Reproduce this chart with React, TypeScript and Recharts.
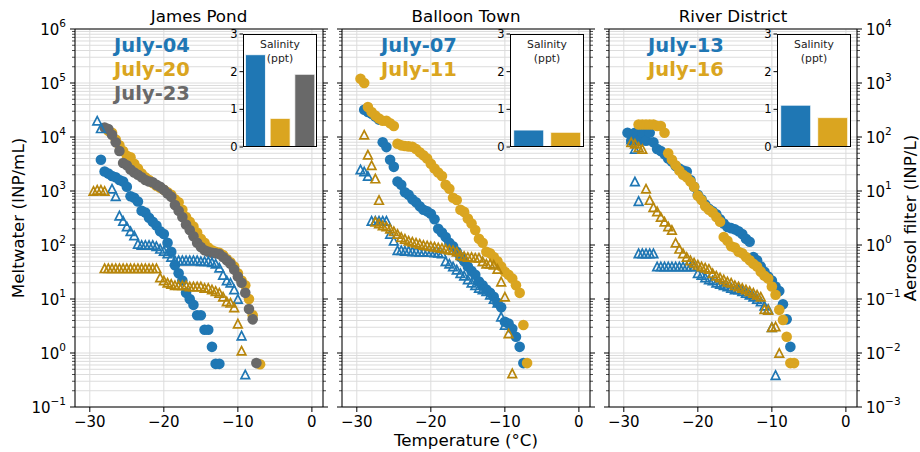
import { ScatterChart, Scatter, XAxis, YAxis, CartesianGrid, ReferenceLine, BarChart, Bar, Cell } from 'recharts'

type Pair = [number, number]

// ---- James Pond ----
const jpMelt0704: Pair[] = [[-28.5, 3800], [-28, 2300], [-27.5, 2100], [-27, 1900], [-26.5, 1800], [-26, 1600], [-25.5, 1500], [-25, 1200], [-24.5, 800], [-24, 750], [-23.5, 640], [-23, 430], [-22.5, 400], [-22, 320], [-21.5, 270], [-21, 230], [-20.5, 180], [-20, 160], [-19.5, 110], [-19, 75], [-18.5, 42], [-18, 30], [-17.5, 22], [-17, 13], [-16.5, 10], [-16, 7.8], [-15.5, 5], [-15, 5], [-14.5, 2.7], [-14, 2.7], [-13.5, 1.3], [-13, 0.63], [-12.5, 0.63]]
const jpMelt0720: Pair[] = [[-27.5, 13000], [-27, 12000], [-26.5, 9000], [-26, 7000], [-25.5, 5500], [-25, 4500], [-24.5, 4200], [-24, 3200], [-23.5, 2600], [-23, 2100], [-22.5, 1800], [-22, 1600], [-21.5, 1400], [-21, 1250], [-20.5, 1150], [-20, 1050], [-19.5, 950], [-19, 850], [-18.5, 700], [-18, 620], [-17.5, 450], [-17, 330], [-16.5, 270], [-16, 220], [-15.5, 170], [-15, 130], [-14.5, 110], [-14, 90], [-13.5, 80], [-13, 75], [-12.5, 72], [-12, 65], [-11.5, 55], [-11, 48], [-10.5, 40], [-10, 30], [-9.5, 22], [-9, 18], [-8.5, 10], [-8, 5], [-7, 0.62]]
const jpMelt0723: Pair[] = [[-28, 15000], [-27.5, 14000], [-27, 11000], [-26.5, 8000], [-26, 5500], [-25.5, 3300], [-25, 3000], [-24.5, 2500], [-24, 2200], [-23.5, 2000], [-23, 1800], [-22.5, 1600], [-22, 1500], [-21.5, 1450], [-21, 1300], [-20.5, 1200], [-20, 1050], [-19.5, 900], [-19, 780], [-18.5, 550], [-18, 430], [-17.5, 330], [-17, 240], [-16.5, 190], [-16, 145], [-15.5, 110], [-15, 92], [-14.5, 80], [-14, 75], [-13.5, 72], [-13, 70], [-12.5, 68], [-12, 60], [-11.5, 52], [-11, 45], [-10.5, 35], [-10, 26], [-9.5, 20], [-9, 13], [-8.5, 6.5], [-8, 4.2], [-7.5, 0.65]]
const jpAero0704: Pair[] = [[-29, 200], [-28.5, 145], [-27, 11], [-26.5, 8], [-26, 3.5], [-25.5, 2.8], [-25, 2.2], [-24.5, 1.8], [-24, 1.5], [-23.5, 1.05], [-23, 1], [-22.5, 1], [-22, 1], [-21.5, 1], [-21, 0.95], [-20.5, 0.85], [-20, 0.78], [-19.5, 0.7], [-19, 0.6], [-18.5, 0.52], [-18, 0.52], [-17.5, 0.52], [-17, 0.52], [-16.5, 0.52], [-16, 0.52], [-15.5, 0.52], [-15, 0.5], [-14.5, 0.5], [-14, 0.5], [-13.5, 0.48], [-13, 0.45], [-12.5, 0.38], [-12, 0.28], [-11.5, 0.22], [-11, 0.2], [-10.5, 0.15], [-10, 0.1], [-9.5, 0.021], [-9, 0.004]]
const jpAero0720: Pair[] = [[-29.5, 10], [-29, 10.5], [-28.5, 10.5], [-28, 10], [-28, 0.37], [-27.5, 0.37], [-27, 0.37], [-26.5, 0.37], [-26, 0.37], [-25.5, 0.37], [-25, 0.37], [-24.5, 0.37], [-24, 0.37], [-23.5, 0.37], [-23, 0.37], [-22.5, 0.37], [-22, 0.37], [-21.5, 0.37], [-21, 0.37], [-20.5, 0.25], [-20, 0.22], [-19.5, 0.2], [-19, 0.19], [-18.5, 0.18], [-18, 0.18], [-17.5, 0.18], [-17, 0.18], [-16.5, 0.17], [-16, 0.17], [-15.5, 0.17], [-15, 0.17], [-14.5, 0.16], [-14, 0.16], [-13.5, 0.15], [-13, 0.14], [-12.5, 0.13], [-12, 0.11], [-11.5, 0.09], [-11, 0.085], [-10.5, 0.07], [-10, 0.035], [-9.5, 0.011]]
const jpSalinity = [2.45, 0.76, 1.93]

// ---- Balloon Town ----
const btMelt0707: Pair[] = [[-29, 32000], [-28.5, 29000], [-28, 27000], [-27.5, 24000], [-27, 21000], [-26.5, 8000], [-26, 6500], [-25.5, 3800], [-25, 2800], [-24.5, 1500], [-24, 1300], [-23.5, 950], [-23, 850], [-22.5, 700], [-22, 620], [-21.5, 520], [-21, 450], [-20.5, 420], [-20, 380], [-19.5, 300], [-19, 200], [-18.5, 170], [-18, 140], [-17.5, 110], [-17, 95], [-16.5, 75], [-16, 60], [-15.5, 50], [-15, 40], [-14.5, 33], [-14, 28], [-13.5, 21], [-13, 18], [-12.5, 15], [-12, 13], [-11.5, 11], [-11, 8.5], [-10.5, 7], [-10, 3.8], [-9.5, 3.5], [-9, 2.8], [-8.5, 2], [-8, 1.3], [-7.5, 0.65]]
const btMelt0711: Pair[] = [[-29.5, 120000], [-29, 100000], [-28.5, 36000], [-28, 29000], [-27.5, 25000], [-27, 22000], [-26.5, 20000], [-26, 20000], [-25.5, 18000], [-25, 16000], [-24.5, 7500], [-24, 7000], [-23.5, 6800], [-23, 6700], [-22.5, 6600], [-22, 6000], [-21.5, 5200], [-21, 4600], [-20.5, 4000], [-20, 3200], [-19.5, 2600], [-19, 2200], [-18.5, 1900], [-18, 1300], [-17.5, 1100], [-17, 750], [-16.5, 680], [-16, 450], [-15.5, 410], [-15, 310], [-14.5, 250], [-14, 190], [-13.5, 130], [-13, 110], [-12.5, 75], [-12, 70], [-11.5, 60], [-11, 50], [-10.5, 40], [-10, 32], [-9.5, 28], [-9, 24], [-8.5, 18], [-8, 13], [-7.5, 3.3], [-7, 0.65]]
const btAero0707: Pair[] = [[-29.5, 25], [-29, 23], [-28.5, 19], [-28, 2.8], [-27.5, 2.8], [-27, 2.8], [-26.5, 2.8], [-26, 2.8], [-25.5, 1.6], [-25, 1.2], [-24.5, 0.8], [-24, 0.8], [-23.5, 0.78], [-23, 0.78], [-22.5, 0.76], [-22, 0.76], [-21.5, 0.75], [-21, 0.75], [-20.5, 0.74], [-20, 0.74], [-19.5, 0.73], [-19, 0.72], [-18.5, 0.7], [-18, 0.5], [-17.5, 0.45], [-17, 0.4], [-16.5, 0.35], [-16, 0.3], [-15.5, 0.27], [-15, 0.23], [-14.5, 0.2], [-14, 0.18], [-13.5, 0.16], [-13, 0.15], [-12.5, 0.14], [-12, 0.12], [-11.5, 0.1], [-11, 0.085], [-10.5, 0.047], [-10, 0.033]]
const btAero0711: Pair[] = [[-29, 110], [-28.5, 47], [-28, 30], [-27.5, 17], [-27, 6.8], [-27.5, 2.7], [-27, 2.5], [-26.5, 2.3], [-26, 2.2], [-25.5, 2], [-25, 1.8], [-24.5, 1.6], [-24, 1.4], [-23.5, 1.3], [-23, 1.2], [-22.5, 1.15], [-22, 1.1], [-21.5, 1.05], [-21, 1], [-20.5, 0.98], [-20, 0.95], [-19.5, 0.93], [-19, 0.9], [-18.5, 0.88], [-18, 0.85], [-17.5, 0.82], [-17, 0.8], [-16.5, 0.75], [-16, 0.65], [-15.5, 0.62], [-15, 0.6], [-14.5, 0.6], [-14, 0.58], [-13.5, 0.58], [-13, 0.5], [-12.5, 0.45], [-12, 0.45], [-11.5, 0.43], [-11, 0.36], [-10.5, 0.21], [-10, 0.11], [-9.5, 0.023], [-9, 0.0042]]
const btSalinity = [0.45, 0.39]

// ---- River District ----
const rdMelt0713: Pair[] = [[-29.5, 12000], [-29, 8500], [-28.5, 12000], [-28, 8500], [-27.5, 12000], [-27, 8500], [-26.5, 12000], [-26, 8000], [-25.5, 6000], [-25, 5500], [-24.5, 4800], [-24, 4000], [-23.5, 3500], [-23, 2900], [-22.5, 2600], [-22, 2400], [-21.5, 2300], [-21, 1600], [-20.5, 1200], [-20, 850], [-19.5, 700], [-19, 560], [-18.5, 470], [-18, 420], [-17.5, 370], [-17, 300], [-16.5, 250], [-16, 215], [-15.5, 205], [-15, 195], [-14.5, 180], [-14, 160], [-13.5, 130], [-13, 115], [-12.5, 60], [-12, 52], [-11.5, 40], [-11, 32], [-10.5, 26], [-10, 22], [-9.5, 17], [-9, 14], [-8.5, 8], [-8, 4.2], [-7.5, 1.3]]
const rdMelt0716: Pair[] = [[-28, 17000], [-27.5, 17000], [-27, 17000], [-26.5, 17000], [-26, 17000], [-25.5, 16000], [-25, 16000], [-24.5, 12000], [-24, 5000], [-23.5, 3800], [-23, 3000], [-22.5, 2400], [-22, 2000], [-21.5, 1800], [-21, 1500], [-20.5, 1200], [-20, 820], [-19.5, 680], [-19, 520], [-18.5, 450], [-18, 400], [-17.5, 330], [-17, 270], [-16.5, 140], [-16, 120], [-15.5, 95], [-15, 90], [-14.5, 75], [-14, 70], [-13.5, 60], [-13, 52], [-12.5, 45], [-12, 40], [-11.5, 32], [-11, 27], [-10.5, 24], [-10, 17], [-9.5, 12], [-9, 6.3], [-8.5, 4.1], [-8, 2], [-7.5, 0.65], [-7, 0.65]]
const rdAero0713: Pair[] = [[-29, 90], [-28.5, 60], [-28.5, 15], [-28, 6.5], [-28, 0.7], [-27.5, 0.7], [-27, 0.7], [-26.5, 0.7], [-26, 0.7], [-25.5, 0.4], [-25, 0.4], [-24.5, 0.4], [-24, 0.4], [-23.5, 0.4], [-23, 0.4], [-22.5, 0.4], [-22, 0.4], [-21.5, 0.4], [-21, 0.4], [-20.5, 0.4], [-20, 0.3], [-19.5, 0.28], [-19, 0.25], [-18.5, 0.23], [-18, 0.22], [-17.5, 0.2], [-17, 0.19], [-16.5, 0.18], [-16, 0.17], [-15.5, 0.16], [-15, 0.15], [-14.5, 0.15], [-14, 0.14], [-13.5, 0.13], [-13, 0.12], [-12.5, 0.11], [-12, 0.1], [-11.5, 0.09], [-11, 0.075], [-10.5, 0.065], [-10, 0.03], [-9.5, 0.0039]]
const rdAero0716: Pair[] = [[-29, 80], [-28.5, 75], [-28, 65], [-27.5, 60], [-27, 11], [-26.5, 6.8], [-26, 5], [-25.5, 4.2], [-25, 3.3], [-24.5, 2.7], [-24, 2.2], [-23.5, 1.9], [-23, 1.1], [-22.5, 0.85], [-22, 0.7], [-21.5, 0.6], [-21, 0.52], [-20.5, 0.47], [-20, 0.43], [-19.5, 0.4], [-19, 0.38], [-18.5, 0.36], [-18, 0.3], [-17.5, 0.27], [-17, 0.25], [-16.5, 0.23], [-16, 0.21], [-15.5, 0.2], [-15, 0.18], [-14.5, 0.17], [-14, 0.16], [-13.5, 0.15], [-13, 0.14], [-12.5, 0.13], [-12, 0.12], [-11.5, 0.11], [-11, 0.065], [-10.5, 0.063], [-10, 0.03], [-9.5, 0.031], [-9, 0.01]]
const rdSalinity = [1.11, 0.78]

const xTicks = [-30, -20, -10, 0]

const BLUE = '#1f77b4'
const GOLD = '#DAA520'
const GOLD_DARK = '#B8860B'
const GRAY = '#696969'

const leftTicks: number[] = []
for (let e = -1; e < 6; e++) for (let m = 1; m < 10; m++) leftTicks.push(Number((m * 10 ** e).toPrecision(3)))
leftTicks.push(1e6)
const rightTicks: number[] = []
for (let e = -3; e < 4; e++) for (let m = 1; m < 10; m++) rightTicks.push(Number((m * 10 ** e).toPrecision(3)))
rightTicks.push(1e4)

const PLOT_TOP = 29
const PLOT_W = 248
const FONT = '"DejaVu Sans", Verdana, sans-serif'

interface Series {
  data: Pair[]
  color: string
}

interface Panel {
  title: string
  left: number
  dates: { label: string; color: string }[]
  melt: Series[]
  aero: Series[]
  salinity: number[]
}

const panels: Panel[] = [
  {
    title: 'James Pond',
    left: 75,
    dates: [{ label: 'July-04', color: BLUE }, { label: 'July-20', color: GOLD }, { label: 'July-23', color: GRAY }],
    melt: [{ data: jpMelt0704, color: BLUE }, { data: jpMelt0720, color: GOLD }, { data: jpMelt0723, color: GRAY }],
    aero: [{ data: jpAero0704, color: BLUE }, { data: jpAero0720, color: GOLD_DARK }],
    salinity: jpSalinity,
  },
  {
    title: 'Balloon Town',
    left: 342,
    dates: [{ label: 'July-07', color: BLUE }, { label: 'July-11', color: GOLD }],
    melt: [{ data: btMelt0707, color: BLUE }, { data: btMelt0711, color: GOLD }],
    aero: [{ data: btAero0707, color: BLUE }, { data: btAero0711, color: GOLD_DARK }],
    salinity: btSalinity,
  },
  {
    title: 'River District',
    left: 609,
    dates: [{ label: 'July-13', color: BLUE }, { label: 'July-16', color: GOLD }],
    melt: [{ data: rdMelt0713, color: BLUE }, { data: rdMelt0716, color: GOLD }],
    aero: [{ data: rdAero0713, color: BLUE }, { data: rdAero0716, color: GOLD_DARK }],
    salinity: rdSalinity,
  },
]

const toPoints = (d: Pair[]) => d.map(([t, v]) => ({ t, v }))

const dot = (color: string) => (p: any) => <circle cx={p.cx} cy={p.cy} r={5.3} fill={color} />
const tri = (color: string) => (p: any) => (
  <polygon
    points={`${p.cx},${p.cy - 4.2} ${p.cx - 4.3},${p.cy + 4.2} ${p.cx + 4.3},${p.cy + 4.2}`}
    fill="none"
    stroke={color}
    strokeWidth={1.7}
  />
)

const expLabel = (e: number) => (e < 0 ? `\u2212${-e}` : `${e}`)

function makeYTick(side: 'left' | 'right', edgeX: number, showLabel: boolean) {
  return (props: any) => {
    const { y, payload } = props
    const lg = Math.log10(payload.value)
    const e = Math.round(lg)
    const major = Math.abs(lg - e) < 1e-6
    const dir = side === 'left' ? -1 : 1
    return (
      <g>
        <line x1={edgeX} x2={edgeX + dir * (major ? 5 : 3)} y1={y} y2={y} stroke="#000" strokeWidth={major ? 1 : 0.7} />
        {major && showLabel && (
          <text x={edgeX + dir * 9} y={y + 5.5} textAnchor={side === 'left' ? 'end' : 'start'} fontSize={15} fill="#000">
            10<tspan dy={-8} fontSize={10.5}>{expLabel(e)}</tspan>
          </text>
        )}
      </g>
    )
  }
}

function PanelChart({ panel, index }: { panel: Panel; index: number }) {
  const leftW = index === 0 ? 75 : 10
  const rightW = index === 2 ? 63 : 10
  const width = leftW + PLOT_W + rightW
  return (
    <div style={{ position: 'absolute', left: panel.left - leftW, top: 0 }}>
      <ScatterChart width={width} height={452} margin={{ top: PLOT_TOP, right: 0, bottom: 0, left: 0 }}>
        <CartesianGrid yAxisId="left" stroke="#dcdcdc" strokeWidth={1} />
        <XAxis
          dataKey="t"
          type="number"
          domain={[-32, 1.5]}
          ticks={xTicks}
          allowDataOverflow
          height={45}
          tickSize={5}
          tickMargin={4}
          interval={0}
          stroke="#000"
          tick={{ fill: '#000', fontSize: 15 }}
          tickFormatter={(v: number) => (v < 0 ? `\u2212${-v}` : `${v}`)}
        />
        <YAxis
          yAxisId="left"
          dataKey="v"
          type="number"
          scale="log"
          domain={[0.1, 1e6]}
          allowDataOverflow
          ticks={leftTicks}
          interval={0}
          width={leftW}
          tickLine={false}
          stroke="#000"
          tick={makeYTick('left', leftW, index === 0)}
        />
        <YAxis
          yAxisId="right"
          orientation="right"
          dataKey="v"
          type="number"
          scale="log"
          domain={[1e-3, 1e4]}
          allowDataOverflow
          ticks={rightTicks}
          interval={0}
          width={rightW}
          tickLine={false}
          stroke="#000"
          tick={makeYTick('right', leftW + PLOT_W, index === 2)}
        />
        <ReferenceLine yAxisId="left" y={1e6} stroke="#000" strokeWidth={1} />
        {panel.melt.map((s, i) => (
          <Scatter key={`m${i}`} yAxisId="left" data={toPoints(s.data)} shape={dot(s.color)} isAnimationActive={false} />
        ))}
        {panel.aero.map((s, i) => (
          <Scatter key={`a${i}`} yAxisId="right" data={toPoints(s.data)} shape={tri(s.color)} isAnimationActive={false} />
        ))}
      </ScatterChart>
    </div>
  )
}

const INSET_DX = 168
const INSET_TOP = 34
const INSET_W = 74
const INSET_H = 113

function Inset({ panel }: { panel: Panel }) {
  const x0 = panel.left + INSET_DX
  const data = panel.salinity.map((v, i) => ({ name: panel.dates[i].label, v }))
  return (
    <>
      <div style={{ position: 'absolute', left: x0, top: INSET_TOP, width: INSET_W, height: INSET_H, background: '#fff' }} />
      <div style={{ position: 'absolute', left: x0 - 22, top: INSET_TOP - 6 }}>
        <BarChart width={22 + INSET_W + 1} height={6 + INSET_H + 6} data={data} margin={{ top: 6, right: 1, bottom: 0, left: 0 }} barCategoryGap="10%">
          <XAxis dataKey="name" height={6} tick={false} tickSize={3.5} axisLine={false} tickLine={{ stroke: '#000' }} />
          <YAxis
            domain={[0, 3]}
            ticks={[0, 1, 2, 3]}
            interval={0}
            width={22}
            tickSize={3.5}
            tickMargin={2}
            axisLine={false}
            tickLine={{ stroke: '#000' }}
            tick={{ fill: '#000', fontSize: 11.5 }}
          />
          <Bar dataKey="v" isAnimationActive={false} stroke="#ffffff" strokeWidth={0.8}>
            {data.map((d, i) => (
              <Cell key={d.name} fill={panel.dates[i].color} />
            ))}
          </Bar>
        </BarChart>
      </div>
      <div
        style={{
          position: 'absolute',
          left: x0,
          top: INSET_TOP,
          width: INSET_W,
          height: INSET_H,
          border: '1px solid #000',
          boxSizing: 'border-box',
          pointerEvents: 'none',
        }}
      />
    </>
  )
}

export default function App() {
  return (
    <div style={{ position: 'absolute', left: 0, top: 0, width: 920, height: 452, background: '#fff', fontFamily: FONT, overflow: 'hidden' }}>
      {panels.map((p, i) => (
        <PanelChart key={p.title} panel={p} index={i} />
      ))}
      {panels.map((p) => (
        <Inset key={`inset-${p.title}`} panel={p} />
      ))}
      <svg width={920} height={452} style={{ position: 'absolute', left: 0, top: 0, pointerEvents: 'none' }} fontFamily={FONT}>
        {panels.map((p) => (
          <g key={`txt-${p.title}`}>
            <text x={p.left + PLOT_W / 2} y={22} textAnchor="middle" fontSize={16.7} fill="#000">
              {p.title}
            </text>
            {p.dates.map((d, i) => (
              <text key={d.label} x={p.left + 77} y={52 + i * 24} textAnchor="middle" fontSize={19.5} fontWeight="bold" fill={d.color}>
                {d.label}
              </text>
            ))}
            <text x={p.left + INSET_DX + INSET_W / 2} y={47.5} textAnchor="middle" fontSize={10.8} fill="#222">
              Salinity
            </text>
            <text x={p.left + INSET_DX + INSET_W / 2} y={61.5} textAnchor="middle" fontSize={10.8} fill="#222">
              (ppt)
            </text>
          </g>
        ))}
        <text x={24} y={218} transform="rotate(-90 24 218)" textAnchor="middle" fontSize={16.7} fill="#000">
          Meltwater (INP/mL)
        </text>
        <text x={916} y={218} transform="rotate(-90 916 218)" textAnchor="middle" fontSize={16.7} fill="#000">
          Aerosol filter (INP/L)
        </text>
        <text x={466} y={446} textAnchor="middle" fontSize={16.7} fill="#000">
          Temperature (°C)
        </text>
      </svg>
    </div>
  )
}
